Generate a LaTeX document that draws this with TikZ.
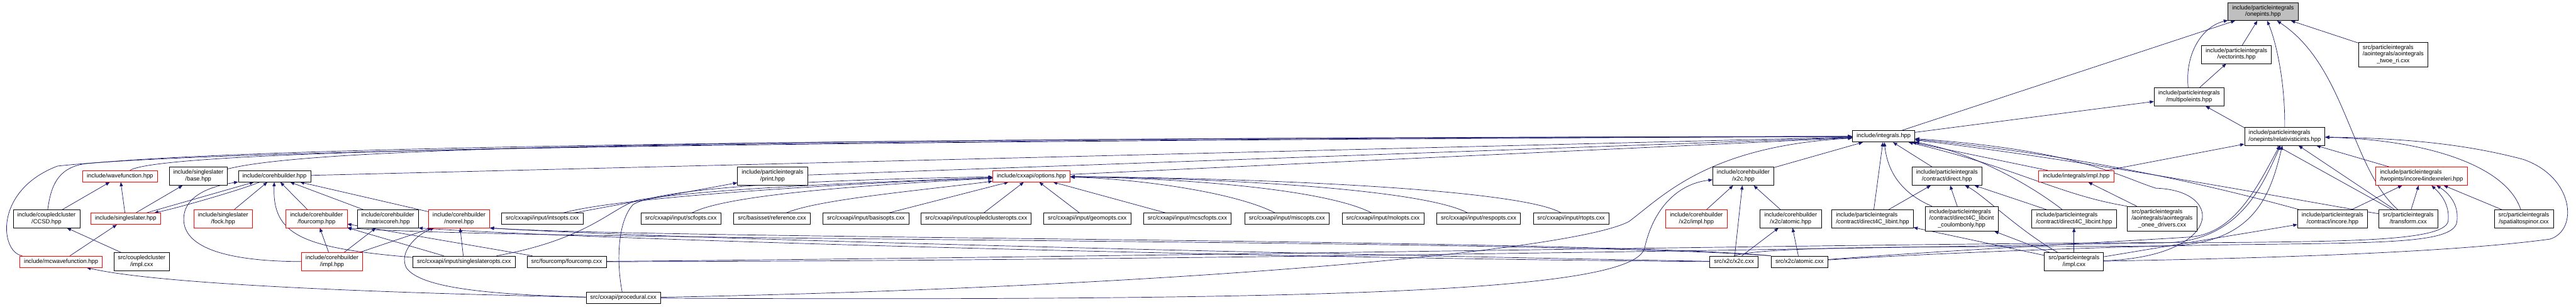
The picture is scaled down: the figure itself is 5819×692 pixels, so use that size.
\documentclass[tikz,border=0pt]{standalone}
\usepackage{fontspec}
\setmainfont{Liberation Sans}
\usetikzlibrary{arrows.meta,backgrounds}
\definecolor{edgeblue}{HTML}{191970}
\definecolor{rootgray}{HTML}{BFBFBF}
\newcommand{\oneln}[1]{\begin{tabular}{@{}c@{}}#1\end{tabular}}
\newcommand{\twoln}[2]{\begin{tabular}{@{}l@{}}#1\\\multicolumn{1}{@{}c@{}}{#2}\end{tabular}}
\newcommand{\threeln}[3]{\begin{tabular}{@{}l@{}}#1\\#2\\\multicolumn{1}{@{}c@{}}{#3}\end{tabular}}

\begin{document}
\begin{tikzpicture}[x=0.75pt,y=-0.75pt,
  hdr/.style={draw=black,fill=white,line width=0.75pt,inner xsep=7pt,inner ysep=4pt,
              font=\fontsize{10}{11.25}\selectfont},
  hdrtrunc/.style={hdr,draw=red},
  hdrroot/.style={hdr,fill=rootgray},
  incl/.style={edgeblue,line width=0.75pt,-{Triangle[length=7pt,width=5.5pt]}}]
  \useasboundingbox (0,0) rectangle (5819,692);
  \node[hdrroot] (onepints) at (5112,26) {\twoln{include/particleintegrals}{/onepints.hpp}};
  \node[hdr] (vectorints) at (5052,123) {\twoln{include/particleintegrals}{/vectorints.hpp}};
  \node[hdr] (twoeri) at (5406,123) {\threeln{src/particleintegrals}{/aointegrals/aointegrals}{\_twoe\_ri.cxx}};
  \node[hdr] (multipoleints) at (4945,219) {\twoln{include/particleintegrals}{/multipoleints.hpp}};
  \node[hdr] (integrals) at (4255,308) {\oneln{include/integrals.hpp}};
  \node[hdr] (relints) at (5161,308) {\twoln{include/particleintegrals}{/onepints/relativisticints.hpp}};

  \node[hdrtrunc] (wavefunction) at (271,398) {\oneln{include/wavefunction.hpp}};
  \node[hdr] (ssbase) at (448,398) {\twoln{include/singleslater}{/base.hpp}};
  \node[hdr] (coreh) at (620,398) {\oneln{include/corehbuilder.hpp}};
  \node[hdr] (print) at (1745,398) {\twoln{include/particleintegrals}{/print.hpp}};
  \node[hdrtrunc] (options) at (2330,398) {\oneln{include/cxxapi/options.hpp}};
  \node[hdr] (x2c) at (3938,398) {\twoln{include/corehbuilder}{/x2c.hpp}};
  \node[hdr] (direct) at (4398,398) {\twoln{include/particleintegrals}{/contract/direct.hpp}};
  \node[hdrtrunc] (intsimpl) at (4690,398) {\oneln{include/integrals/impl.hpp}};
  \node[hdrtrunc] (releri) at (5470,398) {\twoln{include/particleintegrals}{/twopints/incore4indexreleri.hpp}};

  \node[hdr] (ccsd) at (105,494) {\twoln{include/coupledcluster}{/CCSD.hpp}};
  \node[hdrtrunc] (singleslater) at (284,494) {\oneln{include/singleslater.hpp}};
  \node[hdrtrunc] (fock) at (504,494) {\twoln{include/singleslater}{/fock.hpp}};
  \node[hdrtrunc] (fourcomp) at (715,494) {\twoln{include/corehbuilder}{/fourcomp.hpp}};
  \node[hdr] (matrixcoreh) at (876,494) {\twoln{include/corehbuilder}{/matrixcoreh.hpp}};
  \node[hdrtrunc] (nonrel) at (1037,494) {\twoln{include/corehbuilder}{/nonrel.hpp}};
  \foreach \nm/\x in {intsopts/1225,scfopts/1538,basisopts/1956,coupledclusteropts/2205,
                      geomopts/2456,mcscfopts/2682,miscopts/2907,molopts/3124,
                      respopts/3340,rtopts/3549}
    \node[hdr] (\nm) at (\x,494) {\oneln{src/cxxapi/input/\nm.cxx}};
  \node[hdr] (reference) at (1744,494) {\oneln{src/basisset/reference.cxx}};
  \node[hdrtrunc] (x2cimpl) at (3832,494) {\twoln{include/corehbuilder}{/x2c/impl.hpp}};
  \node[hdr] (x2catomic) at (4045,494) {\twoln{include/corehbuilder}{/x2c/atomic.hpp}};
  \node[hdr] (libint) at (4230,494) {\twoln{include/particleintegrals}{/contract/direct4C\_libint.hpp}};
  \node[hdr] (coulomb) at (4431,494) {\threeln{include/particleintegrals}{/contract/direct4C\_libcint}{\_coulombonly.hpp}};
  \node[hdr] (libcint) at (4685,494) {\twoln{include/particleintegrals}{/contract/direct4C\_libcint.hpp}};
  \node[hdr] (oneedrivers) at (4884,494) {\threeln{src/particleintegrals}{/aointegrals/aointegrals}{\_onee\_drivers.cxx}};
  \node[hdr] (incore) at (5269,494) {\twoln{include/particleintegrals}{/contract/incore.hpp}};
  \node[hdr] (transform) at (5440,494) {\twoln{src/particleintegrals}{/transform.cxx}};
  \node[hdr] (spinor) at (5701,494) {\twoln{src/particleintegrals}{/spatialtospinor.cxx}};

  \node[hdrtrunc] (mcwfn) at (138,591) {\oneln{include/mcwavefunction.hpp}};
  \node[hdr] (ccimpl) at (320,591) {\twoln{src/coupledcluster}{/impl.cxx}};
  \node[hdrtrunc] (corehimpl) at (750,591) {\twoln{include/corehbuilder}{/impl.hpp}};
  \node[hdr] (sslopts) at (1048,591) {\oneln{src/cxxapi/input/singleslateropts.cxx}};
  \node[hdr] (fourcompcxx) at (1280,591) {\oneln{src/fourcomp/fourcomp.cxx}};
  \node[hdr] (x2ccxx) at (3917,591) {\oneln{src/x2c/x2c.cxx}};
  \node[hdr] (atomiccxx) at (4065,591) {\oneln{src/x2c/atomic.cxx}};
  \node[hdr] (piimpl) at (4685,591) {\twoln{src/particleintegrals}{/impl.cxx}};
  \node[hdr] (procedural) at (1408,673) {\oneln{src/cxxapi/procedural.cxx}};

  \begin{scope}[on background layer]
    \fill[white] (0,0) rectangle (5819,692);
    \draw[incl] (vectorints) -- (onepints);
    \draw[incl] (multipoleints) .. controls (4935,120) and (4975,60) .. (onepints);
    \draw[incl] (multipoleints) -- (vectorints);
    \draw[incl] (integrals) -- (onepints);
    \draw[incl] (integrals) -- (multipoleints);
    \draw[incl] (relints.north) .. controls (5162,180) and (5140,90) .. (onepints);
    \draw[incl] (twoeri) -- (onepints);
    \draw[incl] (transform) .. controls (5310,380) and (5300,150) .. (onepints);
    \draw[incl] (transform) -- (multipoleints);
    \draw[incl] (transform) -- (relints);
    \draw[incl] (transform) -- (releri);
    \draw[incl] (transform) .. controls (5150,445) and (4700,360) .. (integrals);
    \draw[incl] (releri) -- (relints);
    \draw[incl] (spinor) -- (releri);
    \draw[incl] (spinor) .. controls (5660,370) and (5470,315) .. (relints);
    \draw[incl] (incore) -- (releri);
    \draw[incl] (incore) .. controls (5000,420) and (4700,350) .. (integrals);
    \draw[incl] (intsimpl) -- (integrals);
    \draw[incl] (intsimpl) -- (relints);
    \draw[incl] (direct) -- (integrals);
    \draw[incl] (libint) -- (direct);
    \draw[incl] (libint) -- (integrals);
    \draw[incl] (coulomb) -- (direct);
    \draw[incl] (coulomb) .. controls (4280,430) and (4262,370) .. (integrals);
    \draw[incl] (libcint) -- (direct);
    \draw[incl] (libcint) .. controls (4590,420) and (4460,345) .. (integrals);
    \draw[incl] (oneedrivers) -- (intsimpl);
    \draw[incl] (oneedrivers.north west) .. controls (4650,440) and (4560,380) .. (integrals);
    \draw[incl] (piimpl) -- (libint);
    \draw[incl] (piimpl) -- (coulomb);
    \draw[incl] (piimpl) .. controls (4560,520) and (4480,440) .. (direct);
    \draw[incl] (piimpl) -- (libcint);
    \draw[incl] (piimpl) -- (incore);
    \draw[incl] (piimpl) .. controls (5020,580) and (5030,430) .. (4870,425)
                .. controls (4790,400) and (4700,340) .. (integrals);
    \draw[incl] (piimpl) .. controls (5000,585) and (5500,575) .. (5760,540)
                .. controls (5825,520) and (5815,400) .. (5700,360)
                .. controls (5550,320) and (5400,312) .. (relints);
    \draw[incl] (x2c) -- (integrals);
    \draw[incl] (x2cimpl) -- (x2c);
    \draw[incl] (x2catomic) -- (x2c);
    \draw[incl] (x2ccxx) -- (x2c);
    \draw[incl] (x2ccxx) -- (x2catomic);
    \draw[incl] (atomiccxx) -- (x2catomic);
    \draw[incl] (atomiccxx) .. controls (4400,565) and (4800,545) .. (4950,535)
                .. controls (5050,525) and (5100,420) .. (relints);
    \draw[incl] (atomiccxx) .. controls (4400,570) and (4800,555) .. (5100,552)
                .. controls (5400,548) and (5545,548) .. (5550,500)
                .. controls (5555,460) and (5530,435) .. (releri);
    \draw[incl] (x2ccxx.north) .. controls (4000,550) and (4600,560) .. (4900,555)
                .. controls (5100,550) and (5130,430) .. (relints);
    \draw[incl] (fourcompcxx) .. controls (2600,590) and (4500,555) .. (4900,548)
                .. controls (5060,540) and (5110,420) .. (relints);
    \draw[incl] (fourcompcxx) .. controls (2600,580) and (4500,545) .. (5000,548)
                .. controls (5300,545) and (5520,545) .. (5530,500)
                .. controls (5535,460) and (5510,435) .. (releri);
    \draw[incl] (x2ccxx) .. controls (3000,585) and (1400,545) .. (matrixcoreh.south east);
    \draw[incl] (x2ccxx) .. controls (3000,575) and (1500,540) .. (nonrel.south east);
    \draw[incl] (atomiccxx.north west) .. controls (3600,540) and (1500,540) .. (nonrel.south east);
    \draw[incl] (atomiccxx.north west) .. controls (3500,540) and (1200,545) .. (fourcomp.south east);
    \draw[incl] (procedural) .. controls (3000,680) and (3690,660) .. (3715,560)
                .. controls (3735,470) and (3790,415) .. (x2c);
    \draw[incl] (procedural) .. controls (2600,650) and (3550,570) .. (3680,500)
                .. controls (3760,440) and (3860,330) .. (integrals);
    \draw[incl] (procedural) .. controls (1392,590) and (1395,500) .. (1430,462)
                .. controls (1500,420) and (1900,405) .. (options);
    \draw[incl] (procedural) .. controls (800,660) and (350,640) .. (mcwfn);
    \draw[incl] (procedural) .. controls (1100,665) and (950,650) .. (918,605)
                .. controls (900,570) and (940,530) .. (nonrel);
    \draw[incl] (options) -- (integrals);
    \draw[incl] (print) -- (integrals);
    \draw[incl] (coreh) -- (integrals);
    \draw[incl] (ssbase) .. controls (700,335) and (1500,312) .. (integrals);
    \draw[incl] (wavefunction) .. controls (360,345) and (1200,318) .. (integrals);
    \draw[incl] (ccsd) .. controls (115,420) and (130,380) .. (190,370)
                .. controls (600,330) and (2000,312) .. (integrals);
    \draw[incl] (mcwfn) .. controls (0,570) and (-15,430) .. (130,375)
                .. controls (500,335) and (2000,318) .. (integrals);
    \draw[incl] (ccsd) -- (wavefunction);
    \draw[incl] (ccimpl) -- (ccsd);
    \draw[incl] (singleslater) -- (wavefunction);
    \draw[incl] (singleslater) -- (ssbase);
    \draw[incl] (singleslater) -- (coreh);
    \draw[incl] (coreh) .. controls (540,430) and (400,470) .. (singleslater);
    \draw[incl] (mcwfn) -- (singleslater);
    \draw[incl] (fock) -- (coreh);
    \draw[incl] (fourcomp) -- (coreh);
    \draw[incl] (matrixcoreh) -- (coreh);
    \draw[incl] (nonrel) -- (coreh);
    \draw[incl] (corehimpl) .. controls (500,590) and (415,555) .. (415,495)
                .. controls (415,440) and (480,420) .. (coreh);
    \draw[incl] (corehimpl) -- (fourcomp);
    \draw[incl] (corehimpl) -- (matrixcoreh);
    \draw[incl] (corehimpl) -- (nonrel);
    \draw[incl] (sslopts) .. controls (680,560) and (615,530) .. (coreh);
    \draw[incl] (sslopts) -- (nonrel);
    \draw[incl] (sslopts) -- (fourcomp);
    \draw[incl] (sslopts) .. controls (1330,540) and (1380,470) .. (1440,452)
                .. controls (1600,425) and (2000,410) .. (options);
    \draw[incl] (fourcompcxx) -- (fourcomp);
    \draw[incl] (intsopts) -- (print);
    \draw[incl] (intsopts) .. controls (1400,445) and (1900,415) .. (options);
    \draw[incl] (scfopts) .. controls (1640,440) and (1950,418) .. (options);
    \draw[incl] (reference) .. controls (1850,450) and (2080,430) .. (options);
    \foreach \nm in {basisopts,coupledclusteropts,geomopts,mcscfopts}
      \draw[incl] (\nm) -- (options);
    \foreach \nm/\cx/\dx in {miscopts/2780/2550,molopts/3000/2700,respopts/3220/2800,rtopts/3440/2900}
      \draw[incl] (\nm) .. controls (\cx,430) and (\dx,403) .. (options);
  \end{scope}
\end{tikzpicture}
\end{document}
